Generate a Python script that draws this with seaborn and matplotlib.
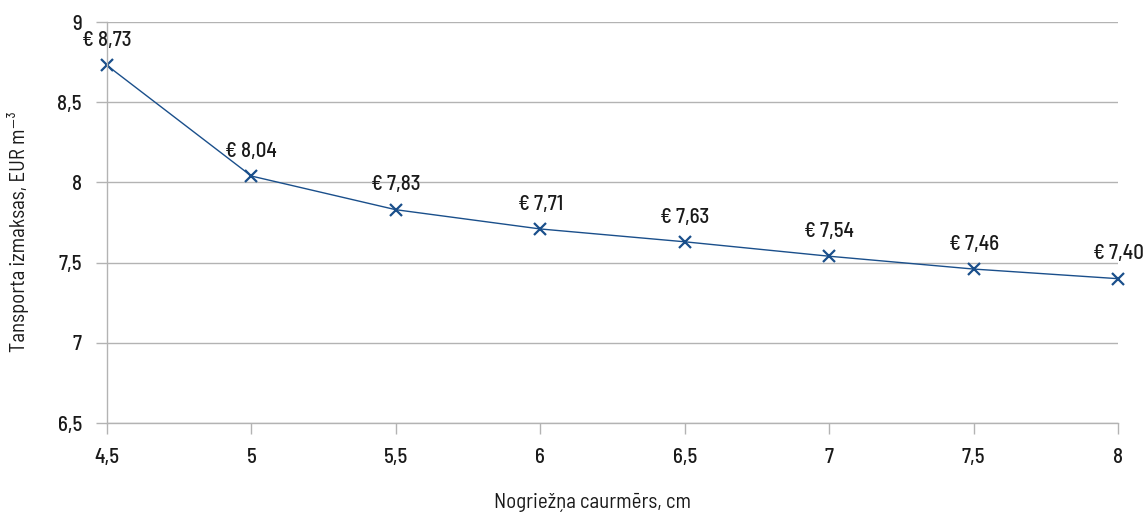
import matplotlib
matplotlib.use("Agg")
import matplotlib.pyplot as plt
import seaborn as sns
import pandas as pd
from matplotlib import font_manager

# Pipe diameter (cm) and the matching transport cost per cubic metre
diameters = [4.5, 5.0, 5.5, 6.0, 6.5, 7.0, 7.5, 8.0]
costs = [8.73, 8.04, 7.83, 7.71, 7.63, 7.54, 7.46, 7.40]
y_ticks = [6.5, 7.0, 7.5, 8.0, 8.5, 9.0]
x_ticks = [4.5, 5.0, 5.5, 6.0, 6.5, 7.0, 7.5, 8.0]

df = pd.DataFrame({"d": diameters, "c": costs})

sns.set_theme(style="white")
available = {f.name for f in font_manager.fontManager.ttflist}
preferred = ["Ubuntu Condensed", "Barlow Semi Condensed", "Liberation Sans Narrow"]
family = [f for f in preferred if f in available][:1] + ["DejaVu Sans"]
plt.rcParams["font.family"] = family
plt.rcParams["font.weight"] = 500

def fmt(v):
    s = f"{v:g}" if v == int(v) else f"{v:.1f}"
    return s.replace(".", ",")

fig = plt.figure(figsize=(11.45, 5.13), dpi=100)
ax = fig.add_axes([0.0934, 0.1754, 0.9764 - 0.0934, 0.957 - 0.1754])

line_color = "#1a4f8b"
grid_color = "#b3b3b3"
text_color = "#1a1a1a"
fs = 15

sns.lineplot(data=df, x="d", y="c", ax=ax, color=line_color, linewidth=1.0,
             marker="x", markersize=9, markeredgewidth=1.6,
             markeredgecolor=line_color)

for d, c in zip(diameters, costs):
    ax.annotate(f"€ {c:.2f}".replace(".", ","), (d, c), xytext=(0, 11),
                textcoords="offset points", ha="center", va="bottom",
                fontsize=fs, color=text_color)

ax.set_xlim(4.5, 8.0)
ax.set_ylim(6.5, 9.0)
ax.set_xticks(x_ticks)
ax.set_xticklabels([fmt(v) for v in x_ticks])
ax.set_yticks(y_ticks)
ax.set_yticklabels([fmt(v) for v in y_ticks])

ax.yaxis.grid(True, color=grid_color, linewidth=1.0)
ax.xaxis.grid(False)
for s in ["top", "right"]:
    ax.spines[s].set_visible(False)
for s in ["left", "bottom"]:
    ax.spines[s].set_color(grid_color)
    ax.spines[s].set_linewidth(1.0)

ax.tick_params(axis="both", which="major", direction="out", length=8,
               width=1.0, color=grid_color, labelsize=fs, labelcolor=text_color,
               left=True, bottom=True, pad=10)

ax.set_xlabel("Nogriežņa caurmērs, cm", fontsize=fs, color=text_color)
ax.set_ylabel("Tansporta izmaksas, EUR m⁻³", fontsize=fs, color=text_color)
ax.xaxis.set_label_coords(0.48, -0.197)
ax.xaxis.label.set_va("center")
ax.yaxis.set_label_coords(-0.088, 0.476)
ax.yaxis.label.set_va("center")

for ln in ax.lines:
    ln.set_clip_on(False)

fig.savefig("out.png", dpi=100)
